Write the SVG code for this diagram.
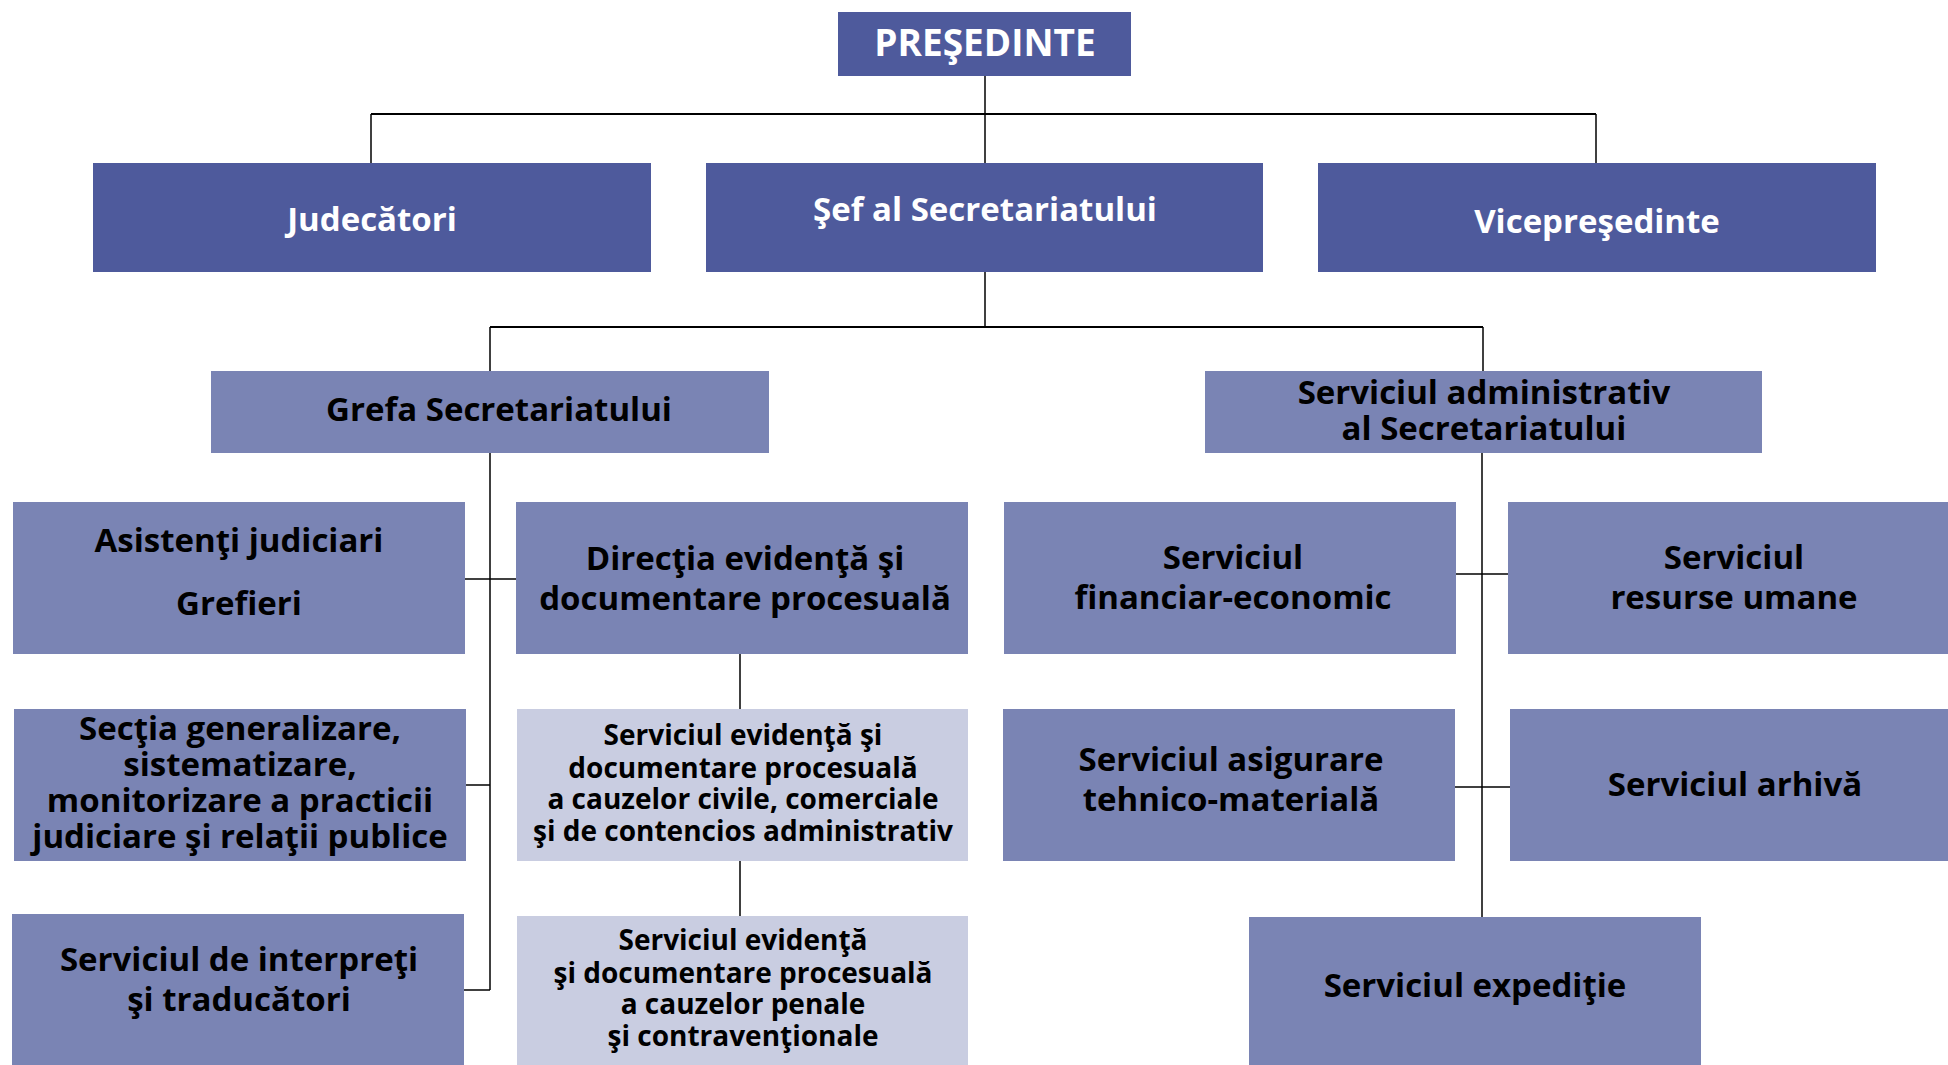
<svg xmlns="http://www.w3.org/2000/svg" width="1948" height="1065" viewBox="0 0 1948 1065">
<style>
.dark{fill:#4E5A9C}
.mid{fill:#7A84B4}
.light{fill:#C9CDE1}
text{font-family:"Open Sans",Lato,"Liberation Sans",sans-serif;font-weight:700;text-anchor:middle}
.w{fill:#FFFFFF;font-size:33px}
.t{font-size:37px}
.b{fill:#000000;font-size:33px}
.s{fill:#000000;font-size:28px}
.c line{stroke:#000;stroke-width:1.5}
.c line.bar{stroke-width:2.2}
</style>
<rect width="1948" height="1065" fill="#FFFFFF"/>
<g class="c" id="connectors">
<line x1="985" y1="76" x2="985" y2="163"/>
<line class="bar" x1="371" y1="114" x2="1596" y2="114"/>
<line x1="371" y1="114" x2="371" y2="163"/>
<line x1="1596" y1="114" x2="1596" y2="163"/>
<line x1="985" y1="272" x2="985" y2="327"/>
<line class="bar" x1="490" y1="327" x2="1483" y2="327"/>
<line x1="490" y1="327" x2="490" y2="371"/>
<line x1="1483" y1="327" x2="1483" y2="371"/>
<line x1="490" y1="452" x2="490" y2="990"/>
<line x1="465" y1="579" x2="516" y2="579"/>
<line x1="466" y1="785" x2="490" y2="785"/>
<line x1="464" y1="990" x2="490" y2="990"/>
<line x1="740" y1="654" x2="740" y2="709"/>
<line x1="740" y1="861" x2="740" y2="916"/>
<line x1="1482" y1="452" x2="1482" y2="917"/>
<line x1="1456" y1="574" x2="1508" y2="574"/>
<line x1="1455" y1="787" x2="1510" y2="787"/>
</g>
<g id="presedinte"><rect class="dark" x="838" y="12" width="293" height="64"/><text class="w t" x="985" y="56">PREŞEDINTE</text></g>
<g id="judecatori"><rect class="dark" x="93" y="163" width="558" height="109"/><text class="w" x="372" y="231">Judecători</text></g>
<g id="sef"><rect class="dark" x="706" y="163" width="557" height="109"/><text class="w" x="985" y="221">Şef al Secretariatului</text></g>
<g id="vicepresedinte"><rect class="dark" x="1318" y="163" width="558" height="109"/><text class="w" x="1597" y="233">Vicepreşedinte</text></g>
<g id="grefa"><rect class="mid" x="211" y="371" width="558" height="82"/><text class="b" x="499" y="421">Grefa Secretariatului</text></g>
<g id="admin"><rect class="mid" x="1205" y="371" width="557" height="82"/><text class="b" x="1484" y="404">Serviciul administrativ</text><text class="b" x="1484" y="440">al Secretariatului</text></g>
<g id="asistenti"><rect class="mid" x="13" y="502" width="452" height="152"/><text class="b" x="239" y="552">Asistenţi judiciari</text><text class="b" x="239" y="615">Grefieri</text></g>
<g id="directia"><rect class="mid" x="516" y="502" width="452" height="152"/><text class="b" x="745" y="570">Direcţia evidenţă şi</text><text class="b" x="745" y="610">documentare procesuală</text></g>
<g id="financiar"><rect class="mid" x="1004" y="502" width="452" height="152"/><text class="b" x="1233" y="569">Serviciul</text><text class="b" x="1233" y="609">financiar-economic</text></g>
<g id="resurse"><rect class="mid" x="1508" y="502" width="440" height="152"/><text class="b" x="1734" y="569">Serviciul</text><text class="b" x="1734" y="609">resurse umane</text></g>
<g id="sectia"><rect class="mid" x="14" y="709" width="452" height="152"/><text class="b" x="240" y="740">Secţia generalizare,</text><text class="b" x="240" y="776">sistematizare,</text><text class="b" x="240" y="812">monitorizare a practicii</text><text class="b" x="240" y="848">judiciare şi relaţii publice</text></g>
<g id="civile"><rect class="light" x="517" y="709" width="451" height="152"/><text class="s" x="743" y="745">Serviciul evidenţă şi</text><text class="s" x="743" y="778">documentare procesuală</text><text class="s" x="743" y="809">a cauzelor civile, comerciale</text><text class="s" x="743" y="841">şi de contencios administrativ</text></g>
<g id="asigurare"><rect class="mid" x="1003" y="709" width="452" height="152"/><text class="b" x="1231" y="771">Serviciul asigurare</text><text class="b" x="1231" y="811">tehnico-materială</text></g>
<g id="arhiva"><rect class="mid" x="1510" y="709" width="438" height="152"/><text class="b" x="1735" y="796">Serviciul arhivă</text></g>
<g id="interpreti"><rect class="mid" x="12" y="914" width="452" height="151"/><text class="b" x="239" y="971">Serviciul de interpreţi</text><text class="b" x="239" y="1011">şi traducători</text></g>
<g id="penale"><rect class="light" x="517" y="916" width="451" height="149"/><text class="s" x="743" y="950">Serviciul evidenţă</text><text class="s" x="743" y="983">şi documentare procesuală</text><text class="s" x="743" y="1014">a cauzelor penale</text><text class="s" x="743" y="1046">şi contravenţionale</text></g>
<g id="expeditie"><rect class="mid" x="1249" y="917" width="452" height="148"/><text class="b" x="1475" y="997">Serviciul expediţie</text></g>
</svg>
